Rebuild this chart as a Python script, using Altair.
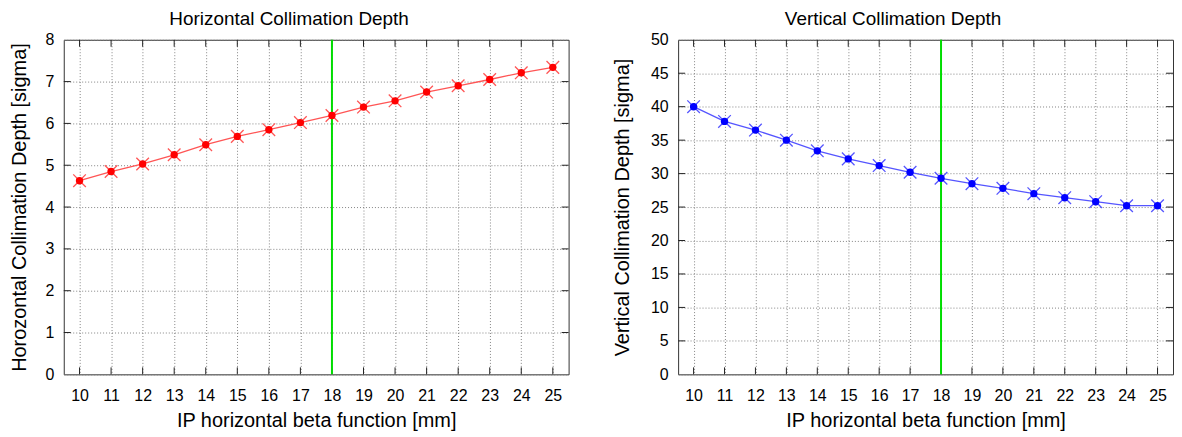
import altair as alt
import pandas as pd

beta = [10, 11, 12, 13, 14, 15, 16, 17, 18, 19, 20, 21, 22, 23, 24, 25]
h_depth = [4.63, 4.85, 5.03, 5.25, 5.49, 5.69, 5.85, 6.02, 6.19, 6.39, 6.54, 6.75, 6.90, 7.05, 7.21, 7.34]
v_depth = [40.0, 37.8, 36.5, 35.0, 33.4, 32.2, 31.2, 30.2, 29.3, 28.5, 27.8, 27.0, 26.4, 25.8, 25.2, 25.2]
h_yticks = [0, 1, 2, 3, 4, 5, 6, 7, 8]
v_yticks = [0, 5, 10, 15, 20, 25, 30, 35, 40, 45, 50]
marker_beta = [18]

FONT = "Liberation Sans"
XPATH = "M-1,-1L1,1M-1,1L1,-1"
H = 336


def panel(values, yticks, color, line_color, title, ytitle, width, ytp):
    df = pd.DataFrame({"beta": beta, "depth": values})
    ymax = yticks[-1]
    xs = alt.Scale(domain=[9.5, 25.5], nice=False, zero=False)
    ys = alt.Scale(domain=[0, ymax], nice=False)
    common = dict(ticks=False, domain=False, gridDash=[1, 2], gridColor="#777", gridOpacity=0.9,
                  labelFont=FONT, titleFont=FONT, labelFontSize=16, titleFontSize=20,
                  labelColor="#000", titleColor="#000", titleFontWeight="normal",
                  labelOverlap=False, labelFlush=False)
    xax = alt.Axis(values=beta, title="IP horizontal beta function [mm]", labelPadding=13,
                   titlePadding=7, **common)
    yax = alt.Axis(values=yticks, title=ytitle, labelPadding=10, titlePadding=ytp, **common)
    X = alt.X("beta:Q", scale=xs, axis=xax)
    Y = alt.Y("depth:Q", scale=ys, axis=yax)
    base = alt.Chart(df)
    line = base.mark_line(color=line_color, strokeWidth=1.3).encode(x=X, y=Y)
    dots = base.mark_point(filled=True, shape="circle", size=55, color=color, opacity=1).encode(x=X, y=Y)
    crosses = base.mark_point(filled=False, shape=XPATH, size=160, color=line_color,
                              strokeWidth=1.3, opacity=1).encode(x=X, y=Y)
    vline = alt.Chart(pd.DataFrame({"beta": marker_beta})).mark_rule(
        color="#00dd00", strokeWidth=2).encode(x=X)

    ydf = pd.DataFrame({"depth": yticks[1:-1]})
    xdf = pd.DataFrame({"beta": beta})
    tl = alt.Chart(ydf).mark_rule(color="#222", strokeWidth=1).encode(
        y=Y, x=alt.value(0), x2=alt.value(7))
    tr = alt.Chart(ydf).mark_rule(color="#222", strokeWidth=1).encode(
        y=Y, x=alt.value(width - 7), x2=alt.value(width))
    tb = alt.Chart(xdf).mark_rule(color="#222", strokeWidth=1).encode(
        x=X, y=alt.value(H), y2=alt.value(H - 7))
    tt = alt.Chart(xdf).mark_rule(color="#222", strokeWidth=1).encode(
        x=X, y=alt.value(0), y2=alt.value(7))

    return alt.layer(tl, tr, tb, tt, vline, line, crosses, dots).properties(
        width=width, height=H,
        title=alt.TitleParams(title, fontSize=19, font=FONT, fontWeight="normal", color="#000",
                              offset=3, frame="bounds", anchor="middle"))


left = panel(h_depth, h_yticks, "#ff0000", "#ff5555", "Horizontal Collimation Depth",
             "Horozontal Collimation Depth [sigma]", 507, 16)
right = panel(v_depth, v_yticks, "#0000ff", "#5555ff", "Vertical Collimation Depth",
              "Vertical Collimation Depth [sigma]", 497, 18)

chart = alt.hconcat(left, right, spacing=42).configure_view(
    stroke="#333", strokeWidth=1
).properties(padding={"left": 0, "top": 0, "right": 0, "bottom": 0})

chart.save("out.html", embed_options={"renderer": "svg", "actions": False})
